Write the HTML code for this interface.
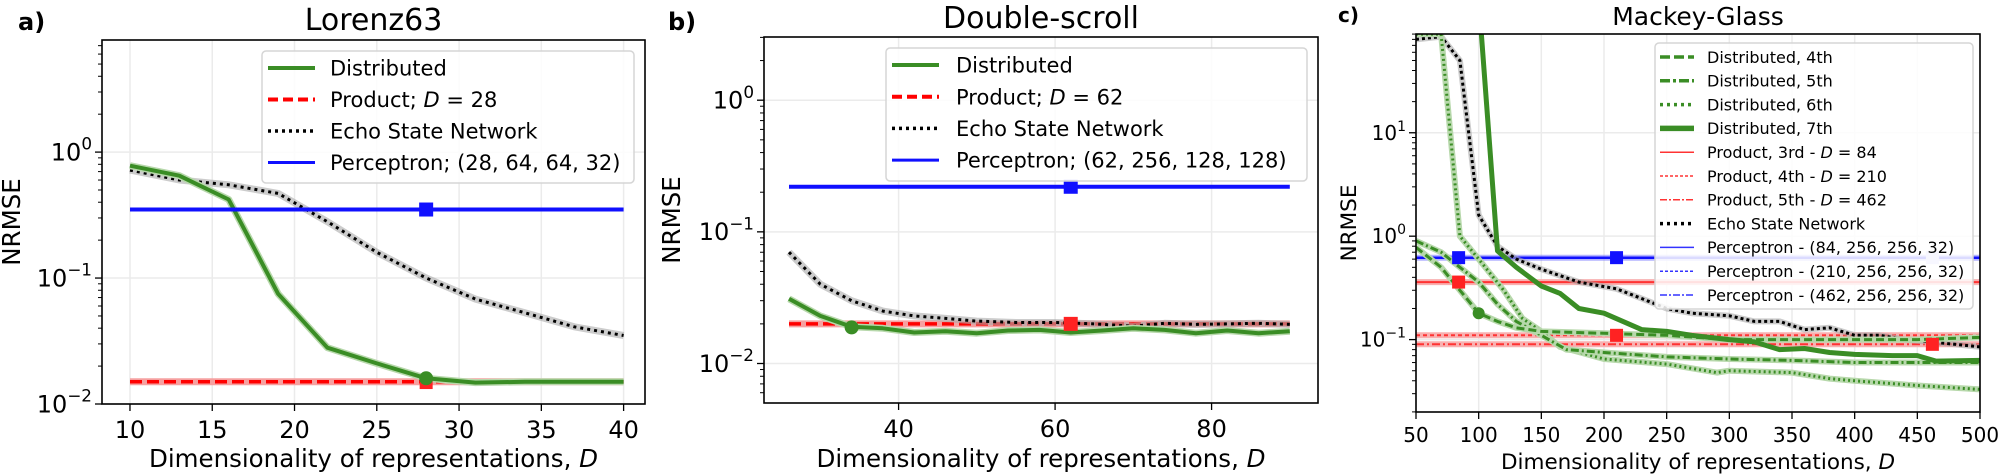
<!DOCTYPE html>
<html><head><meta charset="utf-8"><style>
html,body{margin:0;padding:0;background:#fff;}
svg{display:block;font-family:"DejaVu Sans","Liberation Sans",sans-serif;}
</style></head><body>
<svg id="s" width="2000" height="476" viewBox="0 0 2000 476" xmlns="http://www.w3.org/2000/svg"></svg>
<script>
const S=document.getElementById('s');let out='';
function P(cfg){
 const {L,R,T,B,x0,x1,ly0,ly1}=cfg;
 const X=v=>L+(v-x0)/(x1-x0)*(R-L);
 const Y=v=>B-(Math.log10(v)-ly0)/(ly1-ly0)*(B-T);
 return {X,Y};
}
function line(m,pts,st){return `<polyline fill="none" points="${pts.map(p=>m.X(p[0]).toFixed(1)+','+m.Y(p[1]).toFixed(1)).join(' ')}" ${st} stroke-linejoin="round"/>`;}
function panel(c){
 const m=P(c);const {L,R,T,B}=c;
 out+=`<defs><clipPath id="cl${c.id}"><rect x="${L}" y="${T}" width="${R-L}" height="${B-T}"/></clipPath></defs>`;
 c.xt.forEach(v=>{out+=`<line x1="${m.X(v)}" x2="${m.X(v)}" y1="${T}" y2="${B}" stroke="#ebebeb" stroke-width="1.5"/>`;});
 for(let e=Math.ceil(c.ly0);e<=c.ly1;e++){out+=`<line x1="${L}" x2="${R}" y1="${m.Y(10**e)}" y2="${m.Y(10**e)}" stroke="#ebebeb" stroke-width="1.5"/>`;}
 out+=`<g clip-path="url(#cl${c.id})">`+c.draw(m)+`</g>`;
 out+=`<rect x="${L}" y="${T}" width="${R-L}" height="${B-T}" fill="none" stroke="#000" stroke-width="1.6"/>`;
 c.xt.forEach(v=>{const x=m.X(v);out+=`<line x1="${x}" x2="${x}" y1="${B}" y2="${B+7}" stroke="#000" stroke-width="1.3"/><text x="${x}" y="${B+c.fs+10}" font-size="${c.fs}" text-anchor="middle">${v}</text>`;});
 for(let e=Math.floor(c.ly0);e<=Math.ceil(c.ly1);e++){
  for(let k=1;k<10;k++){const v=k*10**e;const lv=Math.log10(v);if(lv<c.ly0-1e-9||lv>c.ly1+1e-9)continue;const y=m.Y(v);
   if(k==1){out+=`<line x1="${L-7}" x2="${L}" y1="${y}" y2="${y}" stroke="#000" stroke-width="1.3"/><text x="${L-10}" y="${y+c.fs*0.35}" font-size="${c.fs}" text-anchor="end">10<tspan dy="${-c.fs*0.45}" font-size="${c.fs*0.7}">${e<0?'−'+(-e):e}</tspan></text>`;}
   else out+=`<line x1="${L-4}" x2="${L}" y1="${y}" y2="${y}" stroke="#000" stroke-width="1"/>`;}
 }
 out+=`<text x="${(L+R)/2}" y="${c.ty}" font-size="${c.tfs}" text-anchor="middle">${c.title}</text>`;
 out+=`<text x="${c.plx}" y="${c.ply}" font-size="${c.pfs}" font-weight="bold">${c.pl}</text>`;
 out+=`<text x="${(L+R)/2}" y="${c.xly}" font-size="${c.lfs}" text-anchor="middle">Dimensionality of representations, <tspan font-style="italic">D</tspan></text>`;
 out+=`<text transform="translate(${c.ylx},${(T+B)/2}) rotate(-90)" font-size="${c.lfs}" text-anchor="middle">NRMSE</text>`;
 const g=c.leg;out+=`<rect x="${g.x}" y="${g.y}" width="${g.w}" height="${g.h}" rx="4" fill="#fff" fill-opacity="0.85" stroke="#d5d5d5" stroke-width="1.5"/>`;
 g.items.forEach((it,i)=>{const y=g.r0+i*g.dr;out+=`<line x1="${g.hx0}" x2="${g.hx1}" y1="${y}" y2="${y}" ${it[0]}/><text x="${g.tx}" y="${y+g.fs*0.36}" font-size="${g.fs}">${it[1]}</text>`;});
}
function shadow(m,pts,w){return line(m,pts,`stroke="#aaa" stroke-opacity="0.6" stroke-width="${w}"`);}
function sq(m,x,y,col,s){return `<rect x="${m.X(x)-s/2}" y="${m.Y(y)-s/2}" width="${s}" height="${s}" fill="${col}"/>`;}
function dot(m,x,y,r){return `<circle cx="${m.X(x)}" cy="${m.Y(y)}" r="${r}" fill="#3a8d25"/>`;}
panel({id:'a',L:102,R:645,T:40,B:404,x0:8.3,x1:41.3,ly0:-2,ly1:0.89,
 xt:[10,15,20,25,30,35,40],fs:24,tfs:30,ty:30,title:'Lorenz63',pl:'a)',pfs:24,plx:18,ply:30,lfs:24.5,xly:467,ylx:20,
 draw:m=>{const d=[[10,.78],[13,.65],[16,.42],[19,.075],[22,.028],[25,.021],[28,.016],[31,.0148],[34,.015],[37,.015],[40,.015]];
  const e=[[10,.72],[13,.6],[16,.55],[19,.47],[22,.28],[25,.16],[28,.1],[31,.068],[34,.053],[37,.041],[40,.035]];
  let s=shadow(m,e,7)+line(m,e,'stroke="#000" stroke-width="3" stroke-dasharray="3,4"');
  s+=line(m,[[10,.015],[40,.015]],'stroke="#f6a0a0" stroke-width="7"')+line(m,[[10,.015],[40,.015]],'stroke="#f00" stroke-width="3.5" stroke-dasharray="12,5"');
  s+=line(m,d,'stroke="#b7d8ab" stroke-width="7"')+line(m,d,'stroke="#3a8d25" stroke-width="4"');
  s+=line(m,[[10,.35],[40,.35]],'stroke="#1010ff" stroke-width="4"');
  s+=sq(m,28,.35,'#1010ff',14)+sq(m,28,.0148,'#f22',13)+dot(m,28,.016,7);return s;},
 leg:{x:262,y:51,w:372,h:132,r0:68,dr:31.5,hx0:268,hx1:315,tx:330,fs:21,items:[
  ['stroke="#3a8d25" stroke-width="4"','Distributed'],['stroke="#f00" stroke-width="4" stroke-dasharray="10,5"','Product; <tspan font-style="italic">D</tspan> = 28'],
  ['stroke="#000" stroke-width="3.5" stroke-dasharray="3,4"','Echo State Network'],['stroke="#1010ff" stroke-width="3"','Perceptron; (28, 64, 64, 32)']]}});
panel({id:'b',L:764,R:1318,T:37,B:403,x0:22.8,x1:93.6,ly0:-2.3,ly1:0.48,
 xt:[40,60,80],fs:24,tfs:30,ty:28,title:'Double-scroll',pl:'b)',pfs:24,plx:668,ply:30,lfs:24.5,xly:467,ylx:680,
 draw:m=>{const d=[[26,.031],[30,.023],[34,.019],[38,.0185],[42,.0172],[46,.0176],[50,.017],[54,.0178],[58,.018],[62,.0172],[66,.0178],[70,.0185],[74,.018],[78,.017],[82,.0178],[86,.017],[90,.0176]];
  const e=[[26,.07],[30,.04],[34,.03],[38,.025],[42,.023],[46,.022],[50,.021],[55,.0205],[60,.0205],[65,.02],[70,.0192],[74,.0202],[78,.0198],[82,.02],[86,.0202],[90,.0198]];
  let s=line(m,[[26,.02],[90,.02]],'stroke="#f6a0a0" stroke-width="7"')+line(m,[[26,.02],[90,.02]],'stroke="#f00" stroke-width="3.5" stroke-dasharray="12,5"');
  s+=shadow(m,e,7)+line(m,e,'stroke="#000" stroke-width="3" stroke-dasharray="3,4"');
  s+=line(m,d,'stroke="#b7d8ab" stroke-width="7"')+line(m,d,'stroke="#3a8d25" stroke-width="4"');
  s+=line(m,[[26,.22],[90,.22]],'stroke="#1010ff" stroke-width="4"');
  s+=sq(m,62,.22,'#1010ff',14)+sq(m,62,.02,'#f22',14)+dot(m,34,.0188,7);return s;},
 leg:{x:886,y:48,w:421,h:133,r0:65,dr:31.7,hx0:892,hx1:939,tx:956,fs:21,items:[
  ['stroke="#3a8d25" stroke-width="4"','Distributed'],['stroke="#f00" stroke-width="4" stroke-dasharray="10,5"','Product; <tspan font-style="italic">D</tspan> = 62'],
  ['stroke="#000" stroke-width="3.5" stroke-dasharray="3,4"','Echo State Network'],['stroke="#1010ff" stroke-width="3"','Perceptron; (62, 256, 128, 128)']]}});
panel({id:'c',L:1416,R:1980,T:34,B:412,x0:50,x1:500,ly0:-1.70,ly1:1.955,
 xt:[50,100,150,200,250,300,350,400,450,500],fs:20,tfs:25,ty:25,title:'Mackey-Glass',pl:'c)',pfs:20,plx:1338,ply:22,lfs:21.5,xly:469,ylx:1356,
 draw:m=>{
  const e=[[50,80],[70,85],[85,50],[100,1.6],[115,.8],[130,.6],[150,.48],[180,.36],[210,.31],[230,.25],[250,.2],[270,.18],[300,.17],[320,.15],[340,.15],[360,.125],[380,.13],[400,.11],[420,.11],[440,.1],[460,.095],[480,.09],[500,.085]];
  const d7=[[100,200],[115,.72],[130,.5],[150,.33],[165,.28],[180,.2],[200,.18],[230,.125],[250,.12],[270,.11],[300,.1],[320,.095],[340,.08],[360,.082],[380,.075],[400,.072],[430,.07],[450,.07],[465,.062],[500,.063]];
  const d4=[[50,.78],[70,.5],[85,.3],[100,.18],[115,.15],[130,.13],[150,.12],[200,.115],[250,.11],[300,.1],[350,.1],[400,.1],[450,.1],[500,.105]];
  const d5=[[50,.9],[70,.7],[85,.5],[100,.36],[115,.22],[130,.15],[150,.11],[170,.08],[200,.075],[250,.068],[300,.065],[350,.063],[400,.06],[450,.06],[500,.06]];
  const d6=[[50,90],[70,90],[85,1.0],[100,.6],[120,.3],[135,.16],[150,.12],[165,.085],[200,.065],[250,.058],[290,.048],[300,.05],[350,.048],[380,.042],[400,.04],[450,.036],[500,.033]];
  let s='';
  [[.36,''],[.11,'stroke-dasharray="4,3"'],[.09,'stroke-dasharray="8,3,2,3"']].forEach(r=>{s+=line(m,[[50,r[0]],[500,r[0]]],'stroke="#f8b0b0" stroke-width="6"')+line(m,[[50,r[0]],[500,r[0]]],'stroke="#f33" stroke-width="2" '+r[1]);});
  s+=line(m,[[50,.62],[500,.62]],'stroke="#8080ff" stroke-width="6" stroke-opacity="0.6"')+line(m,[[50,.62],[500,.62]],'stroke="#1010ff" stroke-width="2.5"');
  s+=shadow(m,e,6)+line(m,e,'stroke="#000" stroke-width="3" stroke-dasharray="3,3"');
  s+=line(m,d6,'stroke="#b7d8ab" stroke-width="6"')+line(m,d6,'stroke="#3a8d25" stroke-width="3" stroke-dasharray="2,3"');
  s+=line(m,d5,'stroke="#b7d8ab" stroke-width="6"')+line(m,d5,'stroke="#3a8d25" stroke-width="3" stroke-dasharray="8,3,2,3"');
  s+=line(m,d4,'stroke="#b7d8ab" stroke-width="6"')+line(m,d4,'stroke="#3a8d25" stroke-width="3" stroke-dasharray="8,4"');
  s+=line(m,d7,'stroke="#3a8d25" stroke-width="5"');
  s+=sq(m,84,.62,'#1010ff',13)+sq(m,210,.62,'#1010ff',13)+sq(m,462,.62,'#c8c8ff',13);
  s+=sq(m,84,.36,'#f22',13)+sq(m,210,.11,'#f22',13)+sq(m,462,.09,'#f22',13)+dot(m,100,.18,6);return s;},
 leg:{x:1655,y:43,w:318,h:266,r0:57,dr:23.8,hx0:1660,hx1:1694,tx:1707,fs:16,items:[
  ['stroke="#3a8d25" stroke-width="3.5" stroke-dasharray="10,4"','Distributed, 4th'],['stroke="#3a8d25" stroke-width="3.5" stroke-dasharray="10,3,3,3"','Distributed, 5th'],
  ['stroke="#3a8d25" stroke-width="3.5" stroke-dasharray="3,4"','Distributed, 6th'],['stroke="#3a8d25" stroke-width="5.5"','Distributed, 7th'],
  ['stroke="#f33" stroke-width="1.5"','Product, 3rd - <tspan font-style="italic">D</tspan> = 84'],['stroke="#f33" stroke-width="1.5" stroke-dasharray="3,2"','Product, 4th - <tspan font-style="italic">D</tspan> = 210'],
  ['stroke="#f33" stroke-width="1.5" stroke-dasharray="7,2,2,2"','Product, 5th - <tspan font-style="italic">D</tspan> = 462'],['stroke="#000" stroke-width="3.5" stroke-dasharray="3,4"','Echo State Network'],
  ['stroke="#33f" stroke-width="1.5"','Perceptron - (84, 256, 256, 32)'],['stroke="#33f" stroke-width="1.5" stroke-dasharray="3,2"','Perceptron - (210, 256, 256, 32)'],
  ['stroke="#33f" stroke-width="1.5" stroke-dasharray="7,2,2,2"','Perceptron - (462, 256, 256, 32)']]}});
S.innerHTML=out;
</script>
</body></html>
